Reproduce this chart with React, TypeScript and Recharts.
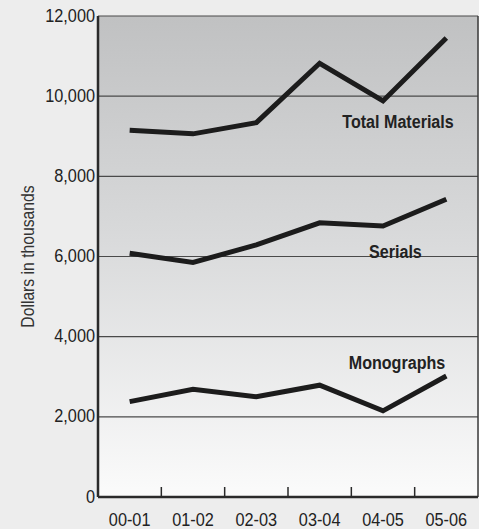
import { LineChart, Line, XAxis, YAxis, CartesianGrid, ReferenceLine, ReferenceDot } from 'recharts';

const categories = ['00-01', '01-02', '02-03', '03-04', '04-05', '05-06'];
const totalMaterials = [9150, 9060, 9340, 10820, 9880, 11450];
const serials = [6080, 5850, 6290, 6840, 6760, 7430];
const monographs = [2380, 2690, 2500, 2790, 2150, 3020];
const yTicks = [0, 2000, 4000, 6000, 8000, 10000, 12000];
const boundaries = [1, 2, 3, 4, 5];

// label anchors (x in category units, y = text baseline value)
const seriesLabels = [
  { text: 'Total Materials', x: 4.737, y: 9210 },
  { text: 'Serials', x: 4.696, y: 5963 },
  { text: 'Monographs', x: 4.721, y: 3181 },
];

const FONT = "'Liberation Sans', Arial, sans-serif";
const FS = 18.5;

const data = categories.map((c, i) => ({
  x: i + 0.5,
  total: totalMaterials[i],
  serials: serials[i],
  monographs: monographs[i],
}));

const fmt = (v: number) => v.toLocaleString('en-US');

// narrow text: Liberation Sans squeezed horizontally to look condensed
function Narrow({ x, y, anchor, children, sx = 0.88, bold = false, fill = '#222' }: any) {
  return (
    <text
      transform={`translate(${x},${y}) scale(${sx},1)`}
      textAnchor={anchor}
      fill={fill}
      fontSize={FS}
      fontWeight={bold ? 'bold' : 'normal'}
      style={{ fontFamily: FONT }}
    >
      {children}
    </text>
  );
}

const XTick = ({ x, y, payload }: any) => (
  <Narrow x={x} y={y + 0.71 * FS} anchor="middle">
    {categories[Math.round(payload.value - 0.5)]}
  </Narrow>
);

const YTick = ({ x, y, payload }: any) => (
  <Narrow x={x} y={y + 0.355 * FS - 1} anchor="end">
    {fmt(payload.value)}
  </Narrow>
);

export default function App() {
  return (
    <div style={{ position: 'absolute', left: 0, top: 0, width: 479, height: 529, background: '#ededed', fontFamily: FONT }}>
      <LineChart width={479} height={529} data={data} margin={{ top: 16, right: 1, bottom: 0, left: 0 }}>
        <defs>
          <linearGradient id="bg" x1="0" y1="0" x2="0" y2="1">
            <stop offset="0%" stopColor="#c0c1c2" />
            <stop offset="45%" stopColor="#d8d9da" />
            <stop offset="100%" stopColor="#fbfbfb" />
          </linearGradient>
        </defs>
        <CartesianGrid vertical={false} stroke="#4a4a4a" strokeWidth={1.2} fill="url(#bg)" fillOpacity={1} />
        <XAxis
          dataKey="x"
          type="number"
          domain={[0, 6]}
          ticks={data.map((d) => d.x)}
          tickLine={false}
          tickSize={0}
          tickMargin={16}
          height={32}
          axisLine={{ stroke: '#2a2a2a', strokeWidth: 2.5 }}
          tick={<XTick />}
        />
        <YAxis
          domain={[0, 12000]}
          ticks={yTicks}
          width={98}
          tickLine={false}
          tickSize={0}
          tickMargin={3}
          axisLine={{ stroke: '#2a2a2a', strokeWidth: 2.5 }}
          tick={<YTick />}
          label={{
            content: ({ viewBox }: any) => {
              const cx = viewBox.x + 34;
              const cy = viewBox.y + viewBox.height / 2;
              return (
                <text
                  transform={`translate(${cx},${cy}) rotate(-90) scale(0.85,1)`}
                  textAnchor="middle"
                  fill="#333"
                  fontSize={FS}
                  style={{ fontFamily: FONT }}
                >
                  Dollars in thousands
                </text>
              );
            },
          }}
        />
        <ReferenceLine x={6} stroke="#3a3a3a" strokeWidth={1.5} />
        {boundaries.map((b) => (
          <ReferenceLine key={b} segment={[{ x: b, y: 0 }, { x: b, y: 250 }]} stroke="#2a2a2a" strokeWidth={1.5} />
        ))}
        <Line type="linear" dataKey="total" stroke="#1c1c1c" strokeWidth={5} dot={false} isAnimationActive={false} strokeLinejoin="miter" />
        <Line type="linear" dataKey="serials" stroke="#1c1c1c" strokeWidth={5} dot={false} isAnimationActive={false} strokeLinejoin="miter" />
        <Line type="linear" dataKey="monographs" stroke="#1c1c1c" strokeWidth={5} dot={false} isAnimationActive={false} strokeLinejoin="miter" />
        {seriesLabels.map((l) => (
          <ReferenceDot
            key={l.text}
            x={l.x}
            y={l.y}
            r={0}
            fill="none"
            stroke="none"
            label={{
              content: ({ viewBox }: any) => (
                <Narrow x={viewBox.x} y={viewBox.y} anchor="middle" sx={0.87} bold>
                  {l.text}
                </Narrow>
              ),
            }}
          />
        ))}
      </LineChart>
    </div>
  );
}
